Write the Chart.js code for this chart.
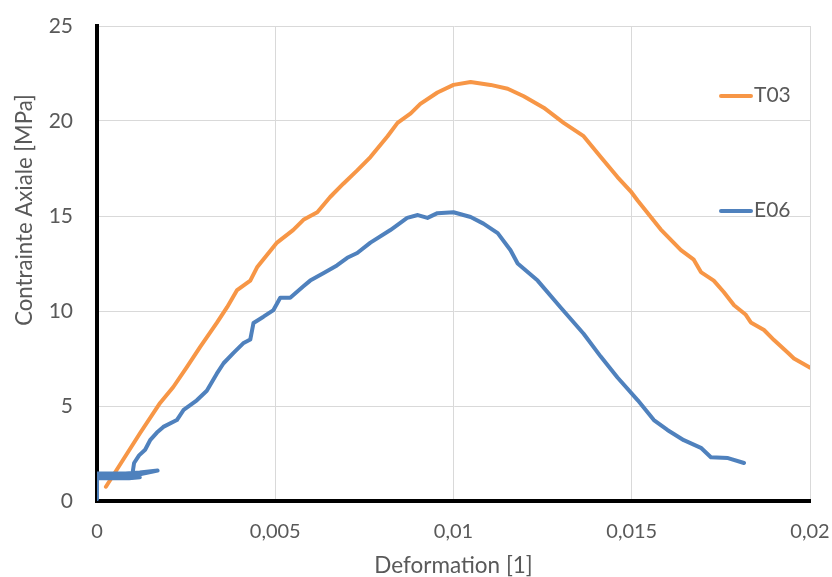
<!DOCTYPE html>
<html>
<head>
<meta charset="utf-8">
<script src="https://cdn.jsdelivr.net/npm/chart.js@4/dist/chart.umd.min.js"></script>
<style>
  html, body { margin: 0; padding: 0; background: #ffffff; }
  #wrap { width: 832px; height: 577px; position: relative; }
</style>
</head>
<body>
<div id="wrap"><canvas id="c" width="832" height="577"></canvas></div>
<script>
// ---- data ----
const seriesNames = ["T03", "E06"];

const t03X = [0.00025,0.00055,0.00121,0.00177,0.00214,0.00252,0.00289,0.00336,0.00365,0.00393,
              0.0043,0.00449,0.00505,0.0055,0.00579,0.00618,0.00654,0.00691,0.0073,0.00767,
              0.00815,0.00843,0.0088,0.00907,0.00955,0.01,0.01048,0.01104,0.01152,0.01197,
              0.01253,0.01309,0.01365,0.01413,0.0146,0.01497,0.01517,0.01581,0.01638,0.01674,
              0.01694,0.0173,0.01758,0.01787,0.0182,0.01834,0.01871,0.01899,0.01938,0.01955,
              0.01997,0.0201];
const t03Y = [0.75,1.63,3.58,5.16,6.0,7.05,8.1,9.37,10.2,11.1,
              11.6,12.3,13.6,14.26,14.8,15.2,16.0,16.7,17.4,18.1,
              19.2,19.9,20.4,20.9,21.5,21.9,22.05,21.9,21.7,21.3,
              20.7,19.9,19.2,18.1,17.05,16.3,15.8,14.3,13.2,12.7,
              12.05,11.6,11.0,10.3,9.8,9.4,9.0,8.47,7.8,7.5,
              7.05,6.95];

const e06X = [0,0,0.0008,0.0012,0.0017,0.0012,0.0008,0,0,0.0009,
              0.0012,0.001,0.00104,0.00118,0.00135,0.00149,0.00168,0.00186,0.00224,0.00243,
              0.0028,0.00308,0.00336,0.00355,0.00383,0.0041,0.0043,0.00439,0.00467,0.00495,
              0.00514,0.00542,0.00579,0.00598,0.00636,0.00673,0.00702,0.0073,0.00767,0.00823,
              0.0087,0.009,0.00927,0.00955,0.01,0.01048,0.01084,0.01124,0.0116,0.0118,
              0.01236,0.013,0.01365,0.01413,0.0146,0.01517,0.01562,0.016,0.01646,0.01694,
              0.01722,0.0177,0.01815];
const e06Y = [0.1,1.45,1.45,1.5,1.6,1.4,1.3,1.25,1.2,1.2,
              1.25,1.5,2.0,2.4,2.7,3.2,3.6,3.9,4.26,4.8,
              5.3,5.8,6.7,7.25,7.8,8.3,8.5,9.37,9.7,10.05,
              10.7,10.7,11.3,11.6,12.0,12.4,12.8,13.05,13.6,14.26,
              14.9,15.05,14.9,15.15,15.2,14.95,14.6,14.1,13.2,12.5,
              11.6,10.2,8.8,7.6,6.5,5.3,4.26,3.74,3.2,2.8,
              2.3,2.26,2.0];

const xTickValues = [0, 0.005, 0.01, 0.015, 0.02];
const yTickValues = [0, 5, 10, 15, 20, 25];
const xTitle = "Deformation [1]";
const yTitle = "Contrainte Axiale [MPa]";

// ---- chart ----
const FONT = "Lato";
const TEXT = "#595959";
const toPts = (xs, ys) => xs.map((x, i) => ({ x: x, y: ys[i] }));
const fmtComma = v => {
  const r = Number(Number(v).toFixed(4));
  return r === 0 ? "0" : String(r).replace(".", ",");
};

const legendPlugin = {
  id: "sideLegend",
  afterDraw(chart) {
    const ctx = chart.ctx;
    const rows = [96, 211];
    chart.data.datasets.forEach((ds, i) => {
      const y = rows[i];
      ctx.save();
      ctx.strokeStyle = ds.borderColor;
      ctx.lineWidth = 4;
      ctx.lineCap = "round";
      ctx.beginPath();
      ctx.moveTo(721, y);
      ctx.lineTo(751, y);
      ctx.stroke();
      ctx.fillStyle = TEXT;
      ctx.font = "21px " + FONT;
      ctx.textBaseline = "middle";
      ctx.textAlign = "left";
      ctx.fillText(ds.label, 754, y - 1);
      ctx.restore();
    });
    // y axis title (placed off-centre as in the reference)
    ctx.save();
    ctx.translate(25, 210);
    ctx.rotate(-Math.PI / 2);
    ctx.fillStyle = TEXT;
    ctx.font = "22.2px " + FONT;
    ctx.textAlign = "center";
    ctx.textBaseline = "middle";
    ctx.fillText(yTitle, 0, 0);
    ctx.restore();
  }
};

new Chart(document.getElementById("c"), {
  type: "scatter",
  data: {
    datasets: [
      { label: seriesNames[0], data: toPts(t03X, t03Y), borderColor: "#F79646", backgroundColor: "#F79646",
        order: 1 },
      { label: seriesNames[1], data: toPts(e06X, e06Y), borderColor: "#4F81BD", backgroundColor: "#4F81BD",
        order: 0 }
    ]
  },
  options: {
    responsive: false,
    animation: false,
    showLine: true,
    elements: {
      point: { radius: 0, hoverRadius: 0 },
      line: { borderWidth: 4, tension: 0, borderCapStyle: "round", borderJoinStyle: "round" }
    },
    layout: { padding: { left: 0, right: 22, top: 26, bottom: 0 } },
    plugins: { legend: { display: false }, tooltip: { enabled: false } },
    scales: {
      x: {
        type: "linear", min: 0, max: 0.02,
        afterFit: s => { s.height = 76; },
        afterBuildTicks: s => { s.ticks = xTickValues.map(v => ({ value: v })); },
        ticks: { color: TEXT, font: { family: FONT, size: 20 }, padding: 0, maxRotation: 0,
                 callback: v => fmtComma(v) },
        grid: { color: "#D9D9D9", lineWidth: 1, drawTicks: true, tickLength: 19, tickColor: "rgba(0,0,0,0)" },
        border: { color: "#000000", width: 4 },
        title: { display: true, text: xTitle, color: TEXT, font: { family: FONT, size: 22.5, lineHeight: 1 },
                 padding: { top: 0, bottom: 0 } }
      },
      y: {
        type: "linear", min: 0, max: 25,
        afterFit: s => { s.width = 97; },
        afterBuildTicks: s => { s.ticks = yTickValues.map(v => ({ value: v })); },
        ticks: { color: TEXT, font: { family: FONT, size: 21 }, padding: 0 },
        grid: { color: "#D9D9D9", lineWidth: 1, drawTicks: true, tickLength: 24, tickColor: "rgba(0,0,0,0)" },
        border: { color: "#000000", width: 4 },
        title: { display: false }
      }
    }
  },
  plugins: [legendPlugin]
});
</script>
</body>
</html>
